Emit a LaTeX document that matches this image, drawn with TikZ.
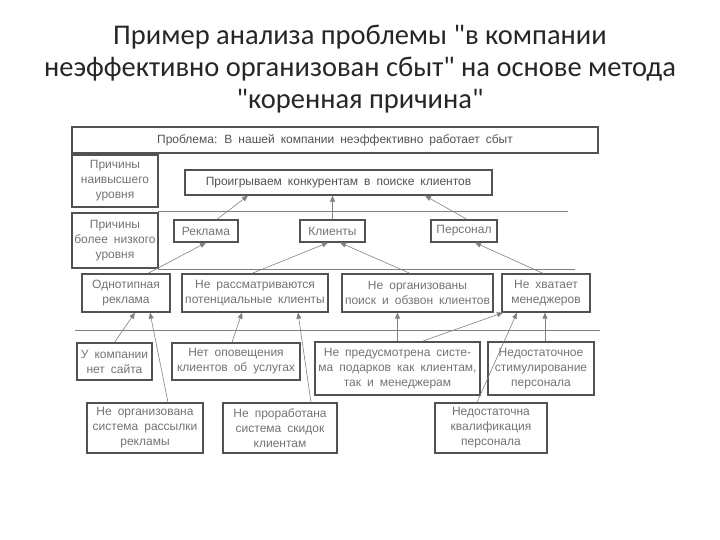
\documentclass[tikz,border=0pt]{standalone}
\usepackage{fontspec}
\usepackage{xcolor}
\usepackage{tikz}
\usetikzlibrary{arrows.meta, calc}
\newfontfamily\titlefont{Carlito}
\newfontfamily\boxfont[WordSpace=1.8]{Liberation Sans}
\definecolor{ink}{gray}{0.32}
\definecolor{txt}{gray}{0.45}
\definecolor{wire}{gray}{0.5}
\tikzstyle{box} = [draw=ink, line width=1.3pt, text=txt, align=center, inner sep=0pt, font=\boxfont\fontsize{12}{15}\selectfont]
\tikzstyle{arr} = [draw=wire, line width=0.6pt, -{Triangle[width=5pt,length=6pt]}]
\tikzstyle{sep} = [draw=wire, line width=0.7pt]

\begin{document}
\begin{tikzpicture}[x=1pt,y=-1pt]
      \useasboundingbox (0,0) rectangle (720,540);
      %%%%%%%%%%%%%%%%%%%%%%%%%%%%%%%%%%%%%%%
      \node (title) at (360,69) [align=center, text=black!85, font=\titlefont\fontsize{28.5}{32}\selectfont] {Пример анализа проблемы "в компании\\неэффективно организован сбыт" на основе метода\\"коренная причина"};
      %%%%%%%%%%%%%%%%%%%%%%%%%%%%%%%%%%%%%%%
      \draw (335,140) node (prob) [box, text=ink, minimum width=526pt, minimum height=26pt] {Проблема: В нашей компании неэффективно работает сбыт};
      \draw (115,181) node (lvl1) [box, minimum width=86pt, minimum height=52pt] {Причины\\наивысшего\\уровня};
      \draw (115,240.5) node (lvl2) [box, minimum width=86pt, minimum height=55pt] {Причины\\более низкого\\уровня};
      \draw (338.5,182.5) node (lose) [box, text=ink, minimum width=307pt, minimum height=25pt] {Проигрываем конкурентам в поиске клиентов};
      % second level
      \draw (206,231) node (rek) [box, minimum width=64pt, minimum height=22pt] {Реклама};
      \draw (332.5,231) node (kli) [box, minimum width=65pt, minimum height=22pt] {Клиенты};
      \draw (464,231) node (per) [box, minimum width=66pt, minimum height=22pt] {Персонал};
      % third level
      \draw (126,293) node (odn) [box, minimum width=88pt, minimum height=38pt] {Однотипная\\реклама};
      \draw (255,293) node (ner) [box, minimum width=146pt, minimum height=38pt] {Не рассматриваются\\потенциальные клиенты};
      \draw (417.5,293) node (neo) [box, minimum width=151pt, minimum height=38pt] {Не организованы\\поиск и обзвон клиентов};
      \draw (546,293) node (nekh) [box, minimum width=88pt, minimum height=38pt] {Не хватает\\менеджеров};
      % root causes
      \draw (114.5,361.5) node (usite) [box, minimum width=75pt, minimum height=37pt] {У компании\\нет сайта};
      \draw (236,361.5) node (neop) [box, minimum width=128pt, minimum height=37pt] {Нет оповещения\\клиентов об услугах};
      \draw (397.5,368.5) node (nepr) [box, minimum width=165pt, minimum height=53pt] {Не предусмотрена систе-\\ма подарков как клиентам,\\так и менеджерам};
      \draw (541,368.5) node (nedst) [box, minimum width=106pt, minimum height=53pt] {Недостаточное\\стимулирование\\персонала};
      \draw (145,428) node (nors) [box, minimum width=116pt, minimum height=50pt] {Не организована\\система рассылки\\рекламы};
      \draw (280,428) node (nepro) [box, minimum width=114pt, minimum height=50pt] {Не проработана\\система скидок\\клиентам};
      \draw (491,428) node (nedkv) [box, minimum width=112pt, minimum height=50pt] {Недостаточна\\квалификация\\персонала};
      % level separators
      \draw[sep] (158,211)--(568,211);
      \draw[sep] (158,269)--(575,269);
      \draw[sep] (75,330)--(600,330);
      % links
      \draw[arr] ([xshift=11pt]rek.north)--([xshift=-90.5pt]lose.south);
      \draw[arr] (kli.north)--(kli.north |- lose.south);
      \draw[arr] ([xshift=3pt]per.north)--([xshift=86.5pt]lose.south);
      \draw[arr] ([xshift=22pt]odn.north)--(rek.south);
      \draw[arr] ([xshift=-3pt]ner.north)--([xshift=-4.5pt]kli.south);
      \draw[arr] ([xshift=-7.5pt]neo.north)--([xshift=7.5pt]kli.south);
      \draw[arr] ([xshift=-3pt]nekh.north)--([xshift=11pt]per.south);
      \draw[arr] (usite.north)--([xshift=9pt]odn.south);
      \draw[arr] ([xshift=23pt]nors.north)--([xshift=24pt]odn.south);
      \draw[arr] ([xshift=-4pt]neop.north)--([xshift=-13pt]ner.south);
      \draw[arr] ([xshift=31pt]nepro.north)--([xshift=43pt]ner.south);
      \draw[arr] (nepr.north)--(nepr.north |- neo.south);
      \draw[arr] ([xshift=24.5pt]nepr.north)--([xshift=-43pt]nekh.south);
      \draw[arr] ([xshift=-14pt]nedkv.north)--([xshift=-29pt]nekh.south);
      \draw[arr] ([xshift=4pt]nedst.north)--([xshift=4pt]nedst.north |- nekh.south);
\end{tikzpicture}
\end{document}
